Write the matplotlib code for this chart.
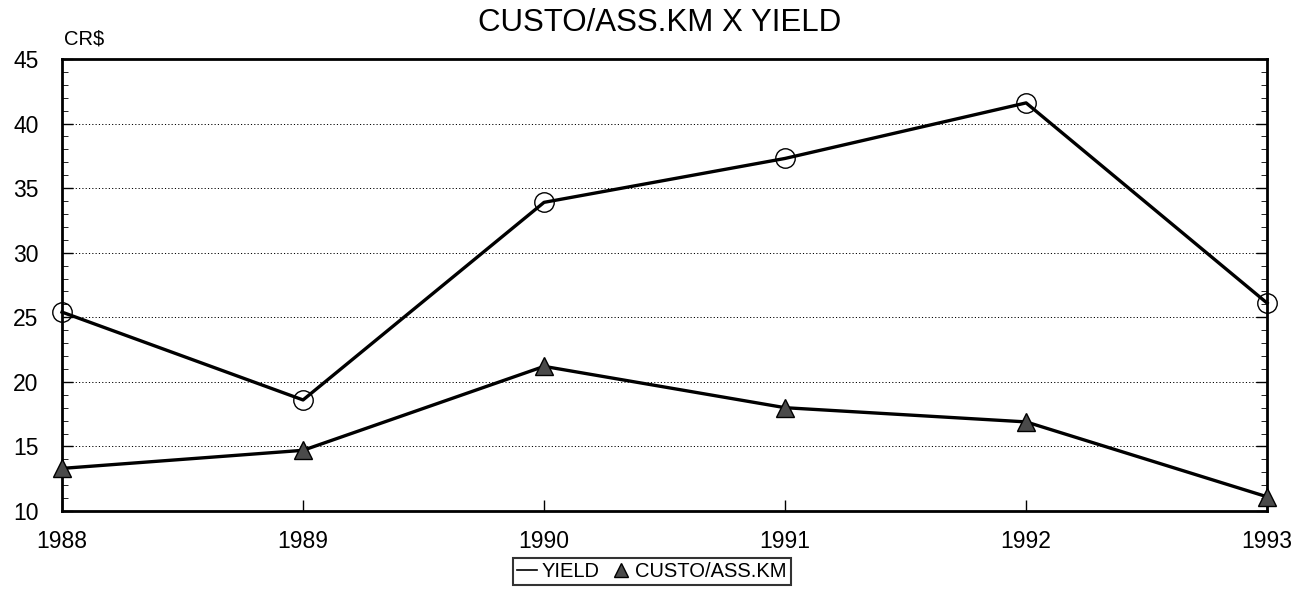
import numpy as np
import matplotlib
matplotlib.use('Agg')
import matplotlib.pyplot as plt
from matplotlib.lines import Line2D
from matplotlib.ticker import MultipleLocator

plt.rcParams['font.family'] = ['Liberation Sans', 'DejaVu Sans']

anos = [1988, 1989, 1990, 1991, 1992, 1993]
yield_vals = [25.4, 18.6, 33.9, 37.3, 41.6, 26.1]
custo_vals = [13.3, 14.7, 21.2, 18.0, 16.9, 11.1]

fig = plt.figure(figsize=(13.09, 6.0), dpi=100)
ax = fig.add_axes([0.0474, 0.1483, 0.9206, 0.7534])

ax.plot(anos, yield_vals, color='black', lw=2.4, marker='o', ms=14,
        mfc='none', mec='black', mew=1.0, clip_on=False, zorder=3)
ax.plot(anos, custo_vals, color='black', lw=2.4, marker='^', ms=13,
        mfc='#4a4a4a', mec='black', mew=1.0, clip_on=False, zorder=3)

ax.set_xlim(1988, 1993)
ax.set_ylim(10, 45)
ax.set_xticks(anos)
ax.set_yticks(range(10, 46, 5))
ax.yaxis.set_minor_locator(MultipleLocator(1))
ax.tick_params(axis='both', which='major', direction='in', labelsize=16.5,
               length=8, width=1, right=True)
ax.tick_params(axis='x', pad=14)
ax.tick_params(axis='y', pad=17)
ax.tick_params(axis='y', which='minor', direction='in', length=4, right=True)
ax.grid(axis='y', which='major', linestyle=(0, (1.2, 2.2)), color='black', lw=0.7)

for s in ax.spines.values():
    s.set_linewidth(2)

fig.text(0.049, 0.935, 'CR$', fontsize=14.5, ha='left', va='center')
fig.text(0.504, 0.962, 'CUSTO/ASS.KM X YIELD', fontsize=22.5, ha='center', va='center')

handles = [Line2D([], [], color='black', lw=1.2),
           Line2D([], [], color='none', marker='^', ms=10, mfc='#4a4a4a', mec='black')]
leg = fig.legend(handles, ['YIELD', 'CUSTO/ASS.KM'], loc='center',
                 bbox_to_anchor=(0.498, 0.047), ncol=2, fontsize=14.5,
                 frameon=True, fancybox=False, handlelength=1.0,
                 handletextpad=0.2, columnspacing=0.6, borderpad=0.2,
                 borderaxespad=0)
leg.get_frame().set_edgecolor('black')
leg.get_frame().set_linewidth(1.5)

fig.savefig('out.png', dpi=100)
